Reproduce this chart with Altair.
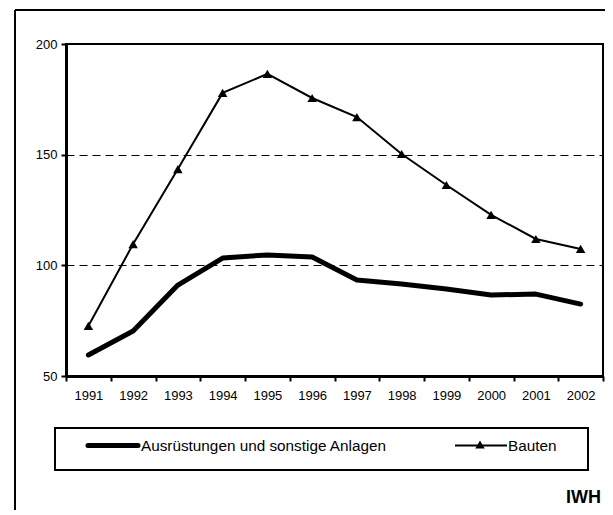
import altair as alt
import pandas as pd

years = ["1991", "1992", "1993", "1994", "1995", "1996", "1997", "1998", "1999", "2000", "2001", "2002"]
series = ["Ausrüstungen und sonstige Anlagen", "Bauten"]
ausruestungen = [59.5, 70.3, 91.1, 103.3, 104.7, 103.8, 93.4, 91.6, 89.3, 86.6, 87.0, 82.5]
bauten = [72.6, 109.6, 143.5, 177.9, 186.5, 175.6, 167.0, 150.3, 136.3, 122.8, 111.9, 107.4]
y_ticks = [50, 100, 150, 200]
source_label = "IWH"

FONT = "Liberation Sans"

df_a = pd.DataFrame({"Jahr": years, "Wert": ausruestungen})
df_b = pd.DataFrame({"Jahr": years, "Wert": bauten})
one = pd.DataFrame({"a": [0]})

x_enc = alt.X(
    "Jahr:O",
    scale=alt.Scale(type="band", paddingInner=0, paddingOuter=0),
    axis=alt.Axis(
        title=None, labelAngle=0, domainWidth=3, domainColor="black",
        tickColor="black", tickWidth=2, tickSize=5, labelPadding=8,
        labelFontSize=13, labelFont=FONT, labelColor="black",
        tickBand="extent", grid=False,
    ),
)
y_enc = alt.Y(
    "Wert:Q",
    scale=alt.Scale(domain=[50, 200], nice=False, zero=False),
    axis=alt.Axis(
        title=None, values=y_ticks, grid=True, gridDash=[8, 5], gridColor="black",
        gridWidth=1, domainWidth=3, domainColor="black", tickColor="black",
        tickWidth=2, tickSize=5, labelPadding=4, labelFontSize=13,
        labelFont=FONT, labelColor="black",
    ),
)

line_a = alt.Chart(df_a).mark_line(
    color="black", strokeWidth=5, strokeCap="round", strokeJoin="round"
).encode(x=x_enc, y=y_enc)

line_b = alt.Chart(df_b).mark_line(color="black", strokeWidth=2).encode(x=x_enc, y=y_enc)
pts_b = alt.Chart(df_b).mark_point(
    shape="triangle-up", filled=True, color="black", size=90, opacity=1
).encode(x=x_enc, y=y_enc)

# decorations (frame, legend, source)
frame_left = alt.Chart(one).mark_rule(color="black", strokeWidth=2).encode(
    x=alt.value(-51), y=alt.value(-34), y2=alt.value(475)
)
frame_top = alt.Chart(one).mark_rule(color="black", strokeWidth=2).encode(
    x=alt.value(-51), x2=alt.value(545), y=alt.value(-34)
)
legend_box = alt.Chart(one).mark_rect(fill="white", stroke="black", strokeWidth=2).encode(
    x=alt.value(-11), x2=alt.value(522), y=alt.value(384), y2=alt.value(426)
)
leg_line1 = alt.Chart(one).mark_rule(color="black", strokeWidth=5, strokeCap="round").encode(
    x=alt.value(22), x2=alt.value(72), y=alt.value(401.5)
)
leg_text1 = alt.Chart(one).mark_text(
    align="left", baseline="alphabetic", fontSize=15.3, font=FONT, color="black"
).encode(x=alt.value(75), y=alt.value(407), text=alt.value(series[0]))
leg_line2 = alt.Chart(one).mark_rule(color="black", strokeWidth=2).encode(
    x=alt.value(389), x2=alt.value(441), y=alt.value(401.5)
)
leg_pt2 = alt.Chart(one).mark_point(
    shape="triangle-up", filled=True, color="black", size=90, opacity=1
).encode(x=alt.value(414), y=alt.value(400.5))
leg_text2 = alt.Chart(one).mark_text(
    align="left", baseline="alphabetic", fontSize=15.3, font=FONT, color="black"
).encode(x=alt.value(442), y=alt.value(407), text=alt.value(series[1]))
src = alt.Chart(one).mark_text(
    align="right", baseline="alphabetic", fontSize=18, fontWeight="bold", font=FONT, color="black"
).encode(x=alt.value(535), y=alt.value(459), text=alt.value(source_label))

chart = alt.layer(
    line_a, line_b, pts_b,
    frame_left, frame_top, legend_box, leg_line1, leg_text1, leg_line2, leg_pt2, leg_text2, src,
).properties(
    width=537, height=332,
    padding={"left": 58, "top": 36, "right": 2, "bottom": 134},
    autosize=alt.AutoSizeParams(type="none"),
    background="white",
).configure_view(stroke="black", strokeWidth=2)

chart.save("out.html", embed_options={"renderer": "svg", "actions": False})
